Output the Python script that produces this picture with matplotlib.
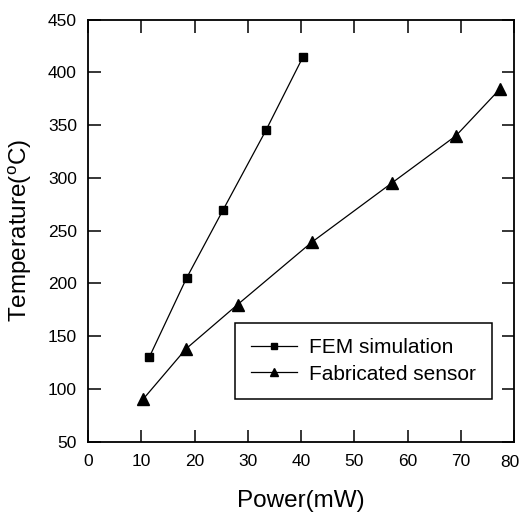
import numpy as np
import matplotlib
matplotlib.use('Agg')
import matplotlib.pyplot as plt

plt.rcParams['font.family'] = ['Liberation Sans', 'DejaVu Sans']
plt.rcParams['mathtext.fontset'] = 'custom'
plt.rcParams['mathtext.rm'] = 'Liberation Sans'

# Data
fem_power = [11.5, 18.5, 25.4, 33.4, 40.4]
fem_temp = [130, 205, 270, 345, 415]

sensor_power = [10.3, 18.4, 28.1, 42.0, 57.0, 69.1, 77.3]
sensor_temp = [90, 138, 180, 239, 295, 340, 384]

x_ticks = np.arange(0, 81, 10)
y_ticks = np.arange(50, 451, 50)

fig = plt.figure(figsize=(5.22, 5.17), dpi=100)
ax = fig.add_axes([88 / 522, 1 - 441.7 / 517, 426 / 522, 422 / 517])

ax.plot(fem_power, fem_temp, color='black', lw=0.9, marker='s', ms=6,
        label='FEM simulation')
ax.plot(sensor_power, sensor_temp, color='black', lw=0.9, marker='^', ms=8,
        label='Fabricated sensor')

ax.set_xlim(0, 80)
ax.set_ylim(50, 450)
ax.set_xticks(x_ticks)
ax.set_xticklabels([str(t) for t in x_ticks[:-1]] + [''])
ax.set_yticks(y_ticks)
ax.tick_params(direction='in', length=9, width=1.1, top=True, right=True,
               labelsize=12.5, pad=8)
ax.tick_params(axis='x', pad=9)
for s in ax.spines.values():
    s.set_linewidth(1.3)

# last x label sits against the figure edge, nudge it left a little
ax.annotate(str(x_ticks[-1]), xy=(1, 0), xycoords='axes fraction',
            xytext=(-3, -9.5), textcoords='offset points',
            ha='center', va='top', fontsize=12.5)

ax.set_xlabel('Power(mW)', fontsize=17.5, labelpad=15)
ax.set_ylabel(r'Temperature($^\mathrm{o}$C)', fontsize=17.5, labelpad=10)

leg = ax.legend(loc='upper right', bbox_to_anchor=(0.948, 0.282),
                borderaxespad=0, fontsize=15, fancybox=False,
                edgecolor='black', framealpha=1, handlelength=2.2,
                handletextpad=0.6, markerscale=0.7,
                borderpad=0.75, labelspacing=0.35)
leg.get_frame().set_linewidth(1.1)

fig.savefig('out.png', dpi=100)
